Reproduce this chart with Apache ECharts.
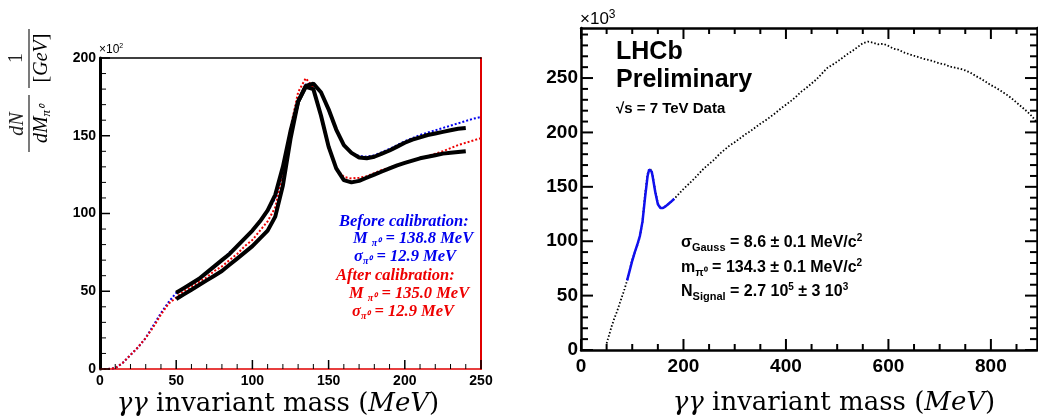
<!DOCTYPE html>
<html><head><meta charset="utf-8">
<script src="https://cdn.jsdelivr.net/npm/echarts@6/dist/echarts.min.js"></script>
<style>html,body{margin:0;padding:0;background:#fff}#c{width:1038px;height:418px}</style>
</head><body><div id="c"></div>
<script>
// ---- Left panel data ----
const leftX = [0,5,10,15,20,25,30,35,40,45,50,55,60,65,70,75,80,85,90,95,100,105,110,115,120,125,130,135,140,145,150,155,160,165,170,175,180,185,190,195,200,205,210,215,220,225,230,235,240,245,250];
const beforeFit = [0,0,0.5,4,9,14,20,28,36,43,49,52,55,58,62,66,70,75,79,84,89,95,101,110,128,152,172,183,184,178,166,153,144,139,137,136.5,137.5,139.5,141.5,144,146.5,148.5,150.5,152,153.5,155,156.5,158,159.5,161,162];
const afterFit = [0,0,0.5,4,9,14,20,27,35,42,46,50,53,56,59,63,66,70,74,79,83,89,95,104,125,155,178,187,181,162,142,129,123.5,122.5,123,124,126,128,129.5,131,132.5,134,135.5,137,138.5,140,142,144,145.5,147,148.5];
const dataX = [50,55,60,65,70,75,80,85,90,95,100,105,110,115,120,125,130,135,140,145,150,155,160,165,170,175,180,185,190,195,200,205,210,215,220,225,230,235,240];
const beforeData = [49,52,55,58,62,66,70,74,79,84,89,95,102,112,130,153,172,182,183.5,178,167,154,144,139,136,135.5,136.5,138.5,140.5,143,145.5,147.5,149,150.5,151.5,152.5,153.5,154.5,155];
const afterData = [45,48,51,54,57,60,63,67,71,75,79,84,89,98,118,148,172,181.5,180,163,143,129,121.5,120,121,123,125,127,129,131,132.5,134,135.5,136.5,137.5,138.5,139,139.5,140];
const leftXMajor = [0,50,100,150,200,250];
const leftYMajor = [0,50,100,150,200];

// ---- Right panel data ----
const rightX = [50,55,60,65,70,75,80,85,90,100,110,115,120,125,130,135,140,145,150,155,160,170,180,190,200,210,220,230,240,250,260,270,280,290,300,310,320,330,340,350,360,370,380,390,400,410,420,430,440,450,460,470,480,490,500,510,520,530,540,550,560,570,580,590,600,610,620,630,640,650,660,670,680,690,700,710,720,730,740,750,760,770,780,790,800,810,820,830,840,850,860,870,880,890];
const rightData = [6,14,22,29,35,42,49,56,64,83,96,104,118,143,162,167,160,146,135,130.5,130.5,134,138,143,148,152.5,157,162,167,171,175,180,184,188,191,194.5,198,201,204.5,208,211,214.5,218,222,225.5,229,233,237.5,241,245,249,254,259,262,265,268.5,272,275,278.5,282,283.5,282.5,281,281.5,279.5,277,276,273.5,272,270.5,269,267.5,266.5,265,263.5,262.5,260.5,259.5,258.5,257,255,252,249.5,246.5,243.5,241,238,235,231.5,227.5,223.5,219.5,215,209];
const fitX = [90,95,100,105,110,115,120,125,130,133,135,138,140,145,150,155,160,165,170,175,182];
const fitY = [64,73,82,90,97,105,118,140,160,166,167,164,159,145,134,130.5,130.5,132,134,136,139];
const rightXMajor = [0,200,400,600,800];
const rightYMajor = [0,50,100,150,200,250];

const LX = 250, LY = 200, RX = 890, RY = 296;   // axis maxima
function minors(max, step, majors){const a=[];for(let v=step;v<max;v+=step){if(majors.indexOf(v)<0)a.push(v);}return a;}
const pair=(xs,ys)=>xs.map((x,i)=>[x,ys[i]]);

const bold14 = {fontFamily:'Liberation Sans',fontWeight:'bold',fontSize:14,color:'#000'};
const bold19 = {fontFamily:'Liberation Sans',fontWeight:'bold',fontSize:19,color:'#000'};

function ax(o){return Object.assign({type:'value',splitLine:{show:false},axisLabel:{show:false},axisTick:{show:false},axisLine:{show:false}},o);}
const lineOf = (c,w)=>({show:true,lineStyle:{color:c,width:w}});

// grid 0: left panel, grid 1: left frame (top/right), grid 2: right panel, grid 3: right frame (top/right)
const LR = {left:100,top:58,width:381,height:311};
const RR = {left:581,top:28,width:456,height:322};
const grids = [LR,LR,RR,RR];

const xAxes = [
  ax({gridIndex:0,min:0,max:LX,interval:50,axisLine:lineOf('#e00000',1.5),
      axisLabel:Object.assign({show:true,customValues:leftXMajor,margin:5},bold14)}),
  ax({gridIndex:1,position:'top',min:-LX,max:0,interval:50,axisLine:lineOf('#000',1.5)}),
  ax({gridIndex:2,min:0,max:RX,interval:50,axisLine:lineOf('#000',2.5),
      axisLabel:Object.assign({show:true,customValues:rightXMajor,margin:7},bold19)}),
  ax({gridIndex:3,position:'top',min:-RX,max:0,interval:10,axisLine:lineOf('#000',2.5)})
];
const yAxes = [
  ax({gridIndex:0,min:0,max:LY,interval:50,axisLine:lineOf('#000',3),
      axisLabel:Object.assign({show:true,customValues:leftYMajor,margin:4},bold14)}),
  ax({gridIndex:1,position:'right',min:-LY,max:0,interval:50,axisLine:lineOf('#e00000',2)}),
  ax({gridIndex:2,min:0,max:RY,interval:50,axisLine:lineOf('#000',2.5),
      axisLabel:Object.assign({show:true,customValues:rightYMajor,margin:3},bold19)}),
  ax({gridIndex:3,position:'right',min:-RY,max:0,interval:8,axisLine:lineOf('#000',2.5)})
];

function line(name,data,xi,yi,style,z){return {name,type:'line',data,xAxisIndex:xi,yAxisIndex:yi,symbol:'none',smooth:false,lineStyle:style,z:z,animation:false,silent:true};}

const serif='Liberation Serif';
function t(x,y,text,rich,extra){return {type:'text',x,y,silent:true,style:Object.assign({text,rich,align:'left',textAlign:'left',verticalAlign:'middle',textVerticalAlign:'middle'},extra||{})};}

const bi = c=>({fontFamily:serif,fontStyle:'italic',fontWeight:'bold',fontSize:16.5,color:c,fill:c,lineHeight:18,verticalAlign:'middle'});
const biSub = c=>({fontFamily:serif,fontStyle:'italic',fontWeight:'bold',fontSize:10,color:c,fill:c,lineHeight:9,verticalAlign:'bottom'});
const legRich = c=>({m:bi(c),s:biSub(c)});

const sb = {fontFamily:'Liberation Sans',fontWeight:'bold',fontSize:16,color:'#000',lineHeight:20,verticalAlign:'middle'};
const sbSub = {fontFamily:'Liberation Sans',fontWeight:'bold',fontSize:11,color:'#000',lineHeight:9,verticalAlign:'bottom'};
const sbSup = {fontFamily:'Liberation Sans',fontWeight:'bold',fontSize:10,color:'#000',lineHeight:9,verticalAlign:'top'};
const sansRich = {m:sb,s:sbSub,p:sbSup};

const tf = 'DejaVu Serif';
const titleRich = {
  r:{fontFamily:tf,fontSize:26,color:'#111',lineHeight:30},
  i:{fontFamily:tf,fontStyle:'italic',fontSize:26,color:'#111',lineHeight:30}
};

const graphics = [
  t(99,50,'{a|×10}{b|2}',{a:{fontFamily:'Liberation Sans',fontSize:12,color:'#000',lineHeight:14,verticalAlign:'middle'},b:{fontFamily:'Liberation Sans',fontSize:7,color:'#000',lineHeight:8,verticalAlign:'top'}}),
  t(580,19,'{a|×10}{b|3}',{a:{fontFamily:'Liberation Sans',fontSize:17,color:'#000',lineHeight:20,verticalAlign:'middle'},b:{fontFamily:'Liberation Sans',fontSize:12,color:'#000',lineHeight:11,verticalAlign:'top'}}),
  t(339,222,'{m|Before calibration:}',legRich('#0000ee')),
  t(353,239,'{m|M }{s|π⁰}{m| = 138.8 MeV}',legRich('#0000ee')),
  t(354,257,'{m|σ}{s|π⁰}{m| = 12.9 MeV}',legRich('#0000ee')),
  t(336,276,'{m|After calibration:}',legRich('#ee0000')),
  t(349,294,'{m|M }{s|π⁰}{m| = 135.0 MeV}',legRich('#ee0000')),
  t(352,312,'{m|σ}{s|π⁰}{m| = 12.9 MeV}',legRich('#ee0000')),
  t(616,52,'LHCb',null,{font:'bold 25px "Liberation Sans"',fill:'#000'}),
  t(616,80,'Preliminary',null,{font:'bold 25px "Liberation Sans"',fill:'#000'}),
  t(616,109,'√s = 7 TeV Data',null,{font:'bold 15px "Liberation Sans"',fill:'#000'}),
  t(681,243,'{m|σ}{s|Gauss}{m| = 8.6 ± 0.1 MeV/c}{p|2}',sansRich),
  t(681,268,'{m|m}{s|π⁰}{m| = 134.3 ± 0.1 MeV/c}{p|2}',sansRich),
  t(681,292,'{m|N}{s|Signal}{m| = 2.7 10}{p|5}{m| ± 3 10}{p|3}',sansRich),
  t(278,404,'{i|γγ}{r| invariant mass (}{i|MeV}{r|)}',titleRich,{align:'center',textAlign:'center'}),
  t(834,403,'{i|γγ}{r| invariant mass (}{i|MeV}{r|)}',titleRich,{align:'center',textAlign:'center'}),
  {type:'group',x:29,y:91,rotation:Math.PI/2,silent:true,children:[
    {type:'text',x:-33,y:-11,style:{text:'dN',font:'italic 20px "Liberation Serif"',fill:'#222',align:'center',textAlign:'center',verticalAlign:'middle',textVerticalAlign:'middle'}},
    {type:'line',shape:{x1:-61,y1:0,x2:-4,y2:0},style:{stroke:'#222',lineWidth:1.2}},
    {type:'text',x:-33,y:13,style:{text:'{i|dM}{s|π⁰}',rich:{i:{fontFamily:serif,fontStyle:'italic',fontSize:20,color:'#222',lineHeight:22,verticalAlign:'middle'},s:{fontFamily:serif,fontStyle:'italic',fontSize:13,color:'#222',lineHeight:12,verticalAlign:'bottom'}},align:'center',textAlign:'center',verticalAlign:'middle',textVerticalAlign:'middle'}},
    {type:'text',x:33,y:-12,style:{text:'1',font:'20px "Liberation Serif"',fill:'#222',align:'center',textAlign:'center',verticalAlign:'middle',textVerticalAlign:'middle'}},
    {type:'line',shape:{x1:3,y1:0,x2:62,y2:0},style:{stroke:'#222',lineWidth:1.2}},
    {type:'text',x:33,y:13,style:{text:'{r|[}{i|GeV}{r|]}',rich:{r:{fontFamily:serif,fontSize:20,color:'#222',lineHeight:22},i:{fontFamily:serif,fontStyle:'italic',fontSize:20,color:'#222',lineHeight:22}},align:'center',textAlign:'center',verticalAlign:'middle',textVerticalAlign:'middle'}}
  ]}
];

const chart = echarts.init(document.getElementById('c'),null,{renderer:'canvas'});
chart.setOption({
  animation:false,
  backgroundColor:'#fff',
  grid:grids,
  xAxis:xAxes,
  yAxis:yAxes,
  series:[
    line('blueFit',pair(leftX,beforeFit),0,0,{color:'#0000ee',width:2,type:[2,2]},3),
    line('redFit',pair(leftX,afterFit),0,0,{color:'#ee0000',width:2,type:[2,2]},3),
    line('beforeData',pair(dataX,beforeData),0,0,{color:'#000',width:4},4),
    line('afterData',pair(dataX,afterData),0,0,{color:'#000',width:4},4),
    line('rightData',pair(rightX,rightData),2,2,{color:'#000',width:1.8,type:[1.5,2]},3),
    line('rightFit',pair(fitX,fitY),2,2,{color:'#1010ee',width:2.5},4)
  ],
  graphic:graphics
});

// Tick marks, placed through the library's own axis scales (inside-pointing, ROOT style)
function tickLines(){
  const els=[];
  const add=(x1,y1,x2,y2,w)=>els.push({type:'line',silent:true,z:10,shape:{x1,y1,x2,y2},style:{stroke:'#000',lineWidth:w}});
  const P=(g,x,y)=>chart.convertToPixel({xAxisIndex:g,yAxisIndex:g},[x,y]);
  // left panel: bottom and left axes
  const l0=P(0,0,0);
  leftXMajor.forEach(v=>{const p=P(0,v,0); add(p[0],l0[1],p[0],l0[1]-9,1.5);});
  minors(LX,10,leftXMajor).forEach(v=>{const p=P(0,v,0); add(p[0],l0[1],p[0],l0[1]-5,1);});
  leftYMajor.forEach(v=>{const p=P(0,0,v); add(l0[0],p[1],l0[0]+10,p[1],1.5);});
  minors(LY,10,leftYMajor).forEach(v=>{const p=P(0,0,v); add(l0[0],p[1],l0[0]+6,p[1],1);});
  // right panel: all four sides
  const r0=P(2,0,0), r1=P(2,RX,RY);
  rightXMajor.forEach(v=>{const p=P(2,v,0); add(p[0],r0[1],p[0],r0[1]-11,2); add(p[0],r1[1],p[0],r1[1]+11,2);});
  minors(RX,50,rightXMajor).forEach(v=>{const p=P(2,v,0); add(p[0],r0[1],p[0],r0[1]-6,2); add(p[0],r1[1],p[0],r1[1]+6,2);});
  rightYMajor.forEach(v=>{const p=P(2,0,v); add(r0[0],p[1],r0[0]+12,p[1],2); add(r1[0],p[1],r1[0]-12,p[1],2);});
  minors(RY,10,rightYMajor).forEach(v=>{const p=P(2,0,v); add(r0[0],p[1],r0[0]+7,p[1],2); add(r1[0],p[1],r1[0]-7,p[1],2);});
  return els;
}
chart.setOption({graphic:graphics.concat(tickLines())});
</script></body></html>
